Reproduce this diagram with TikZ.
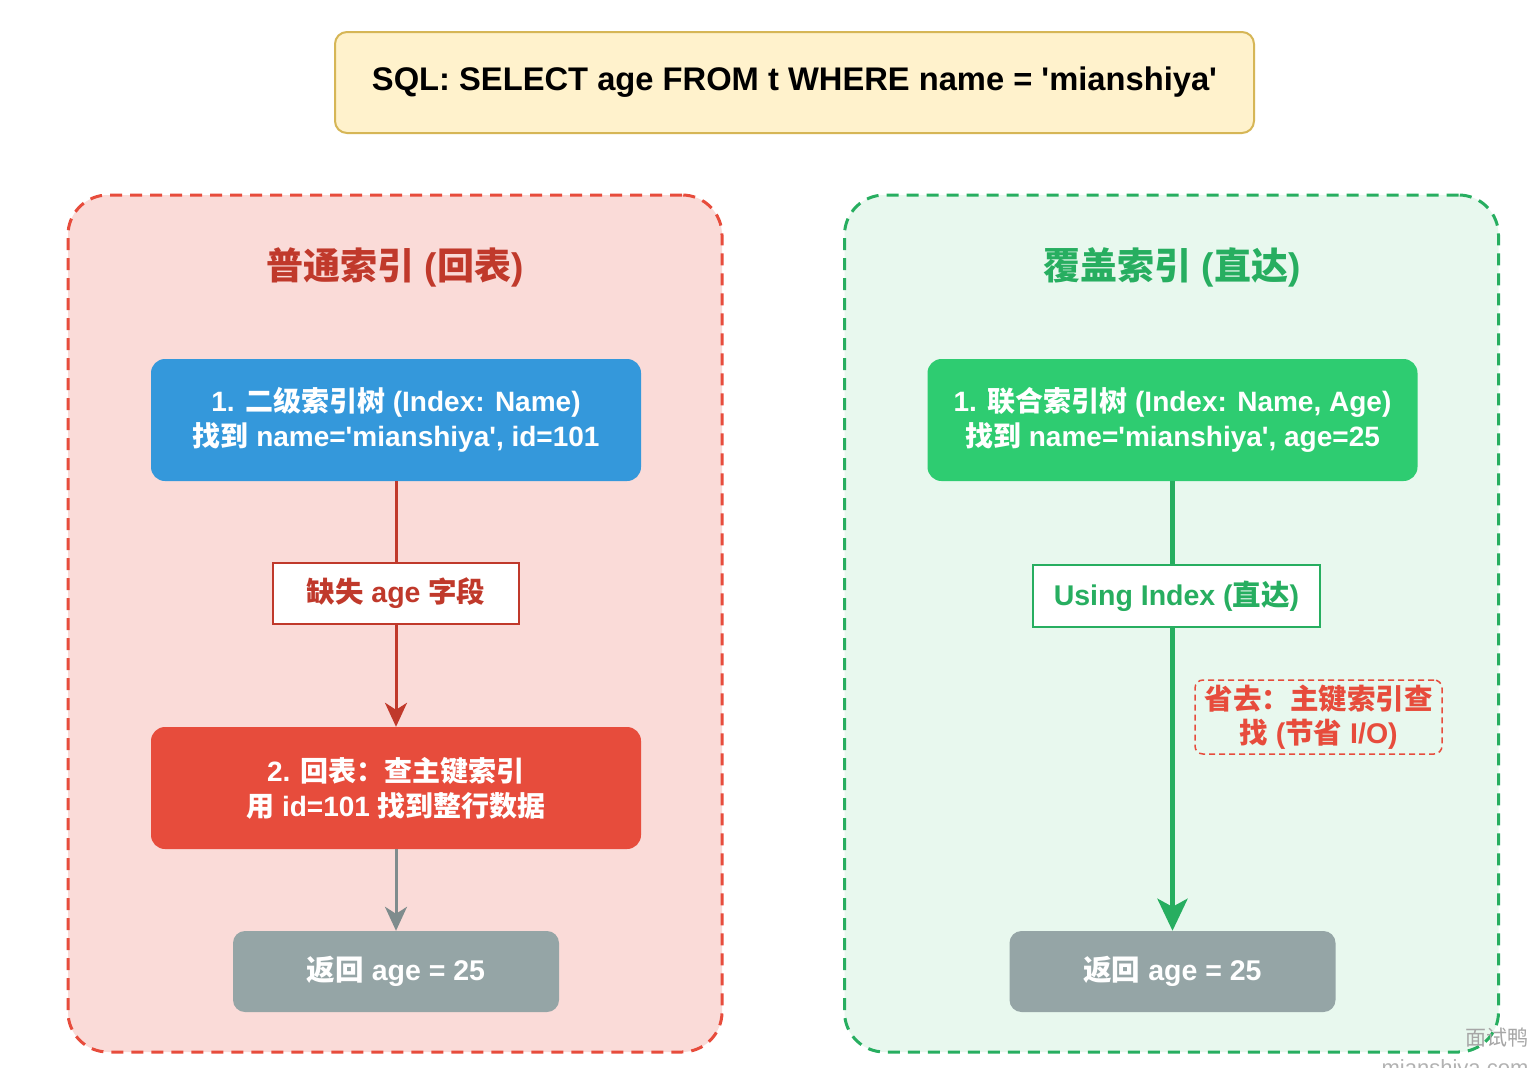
\documentclass[tikz,border=0pt]{standalone}
\usepackage{fontspec}
\newfontfamily\lat{Liberation Sans}
\newfontfamily\cjk{Noto Sans CJK SC}
\usetikzlibrary{arrows.meta}
\newcommand{\zh}[1]{{\cjk #1}}
\definecolor{ttlfill}{HTML}{FFF2CC}
\definecolor{ttlline}{HTML}{D6B656}
\definecolor{redfill}{HTML}{FADBD8}
\definecolor{redline}{HTML}{E74C3C}
\definecolor{reddark}{HTML}{C0392B}
\definecolor{grnfill}{HTML}{E8F8EE}
\definecolor{grnline}{HTML}{27AE60}
\definecolor{grnbox}{HTML}{2ECC71}
\definecolor{bluebox}{HTML}{3498DB}
\definecolor{graybox}{HTML}{95A5A6}
\definecolor{grayline}{HTML}{7F8C8D}
\begin{document}
\begin{tikzpicture}[x=1pt,y=-1pt,
  every node/.style={font=\lat\bfseries},
  cont/.style={rounded corners=40pt, line width=3pt, dash pattern=on 12pt off 8pt, minimum width=654pt, minimum height=857pt, inner sep=0pt},
  conttitle/.style={font=\lat\bfseries\fontsize{37}{40}\selectfont},
  bigbox/.style={rounded corners=14pt, minimum width=490pt, minimum height=122pt, inner sep=0pt, text=white, align=center, font=\lat\bfseries\fontsize{28}{35}\selectfont},
  retbox/.style={rounded corners=12pt, fill=graybox, minimum width=326pt, minimum height=81pt, inner sep=0pt, text=white, font=\lat\bfseries\fontsize{28.5}{32}\selectfont},
  lblbox/.style={fill=white, line width=2pt, inner sep=0pt, font=\lat\bfseries\fontsize{28.5}{32}\selectfont},
  arr/.style={line width=3pt, -{Stealth[length=24pt,width=22pt,inset=7pt]}}
]
\useasboundingbox (0,0) rectangle (1535,1068);
\fill[white] (0,0) rectangle (1535,1068);

% SQL title
\node[fill=ttlfill, draw=ttlline, line width=2pt, rounded corners=12pt, minimum width=919pt, minimum height=101pt, inner sep=0pt, font=\lat\bfseries\fontsize{32.7}{36}\selectfont] (sql) at (794.5,82.5) {SQL: SELECT age FROM t WHERE name = 'mianshiya'};

% containers
\node[cont, fill=redfill, draw=redline] (lcont) at (395,623.5) {};
\node[cont, fill=grnfill, draw=grnline] (rcont) at (1171.5,623.5) {};

\node[conttitle, text=reddark] (ltitle) at (395,267) {\zh{普通索引} (\zh{回表})};
\node[conttitle, text=grnline] (rtitle) at (1172,267) {\zh{覆盖索引} (\zh{直达})};

% left flow
\node[bigbox, fill=bluebox] (b1) at (396,420) {1. \zh{二级索引树} (Index: Name)\\\zh{找到} name='mianshiya', id=101};
\node[bigbox, fill=redline] (b2) at (396,788) {2. \zh{回表：查主键索引}\\\zh{用} id=101 \zh{找到整行数据}};
\node[retbox] (lret) at (396,971.5) {\zh{返回} age = 25};

% right flow
\node[bigbox, fill=grnbox] (g1) at (1172.5,420) {1. \zh{联合索引树} (Index: Name, Age)\\\zh{找到} name='mianshiya', age=25};
\node[retbox] (rret) at (1172.5,971.5) {\zh{返回} age = 25};

% connectors
\draw[arr, reddark] (b1.south) -- (b2.north);
\draw[arr, grayline] (b2.south) -- (lret.north);
\draw[line width=5pt, grnline, -{Stealth[length=32pt,width=30pt,inset=8pt]}] (g1.south) -- (rret.north);

% labels on connectors
\node[lblbox, draw=reddark, text=reddark, minimum width=246pt, minimum height=61pt] (lmiss) at (396,593.5) {\zh{缺失} age \zh{字段}};
\node[lblbox, draw=grnline, text=grnline, minimum width=287pt, minimum height=62pt] (rusing) at (1176.5,596) {Using Index (\zh{直达})};

% note
\node[draw=redline, text=redline, line width=1.5pt, dash pattern=on 6pt off 4pt, rounded corners=8pt, minimum width=247pt, minimum height=74pt, inner sep=0pt, align=center, font=\lat\bfseries\fontsize{28.5}{34}\selectfont] (note) at (1318.5,717) {\zh{省去：主键索引查}\\\zh{找} (\zh{节省} I/O)};

% watermark
\node[text=black!35, font=\cjk\fontsize{21}{24}\selectfont] (wm1) at (1497,1038) {面试鸭};
\node[text=black!30, font=\lat\fontsize{22}{24}\selectfont] (wm2) at (1455,1070) {mianshiya.com};
\end{tikzpicture}
\end{document}
